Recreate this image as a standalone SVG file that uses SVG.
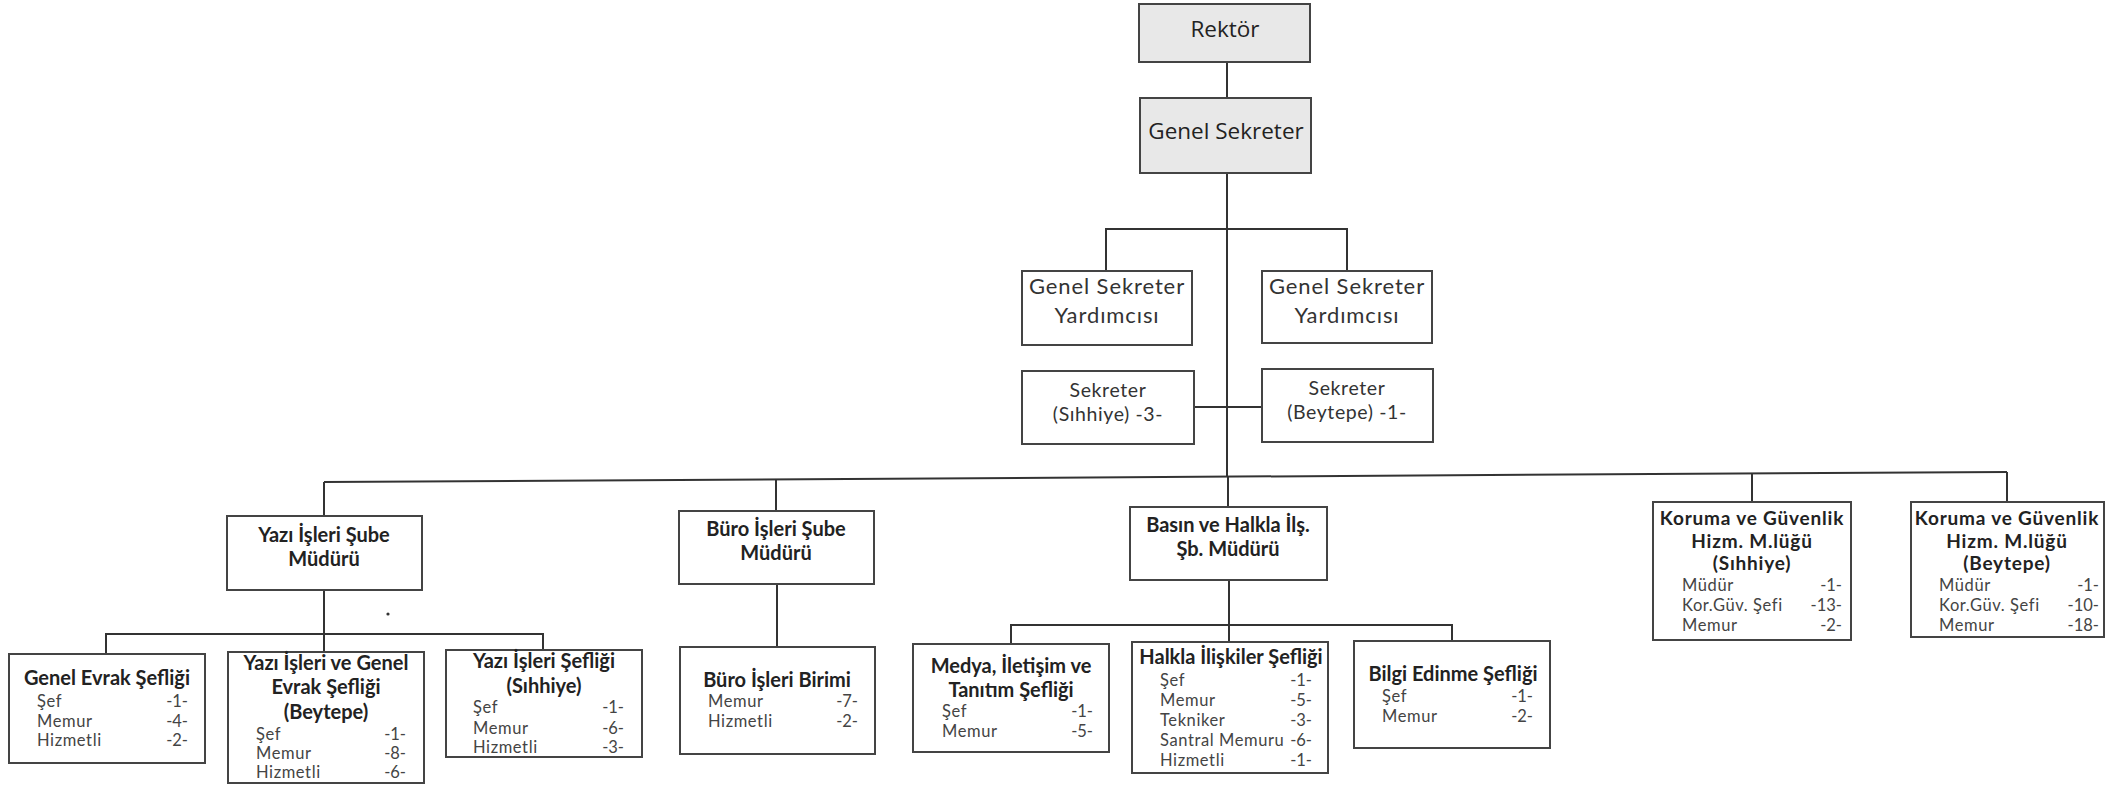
<svg xmlns="http://www.w3.org/2000/svg" width="2126" height="786" viewBox="0 0 2126 786">
<style>
.bg{fill:#ffffff}
.box{fill:#ffffff;stroke:#444;stroke-width:2}
.top{fill:#e8e8e8;stroke:#444;stroke-width:2}
.ln{fill:none;stroke:#333;stroke-width:2}
.t1{font-family:"Open Sans","Noto Sans",sans-serif;font-size:22.5px;fill:#222;text-anchor:middle}
.t2{font-family:Lato,"Open Sans",sans-serif;font-size:22px;fill:#333;text-anchor:middle;letter-spacing:0.9px}
.t3{font-family:Lato,"Open Sans",sans-serif;font-size:19.5px;fill:#333;text-anchor:middle;letter-spacing:0.6px}
.h{font-family:Lato,"Open Sans",sans-serif;font-size:20px;font-weight:bold;fill:#222;text-anchor:middle}
.hk{font-family:Lato,"Open Sans",sans-serif;font-size:19px;font-weight:bold;fill:#222;text-anchor:middle;letter-spacing:0.8px}
.il{font-family:Lato,"Open Sans",sans-serif;font-size:16.5px;fill:#444;letter-spacing:0.6px}
.ir{font-family:Lato,"Open Sans",sans-serif;font-size:16.5px;fill:#444;text-anchor:end}
</style>
<rect class="bg" x="0" y="0" width="2126" height="786"/>
<g id="connectors">
<path class="ln" d="M1227 62V98M1227 173V477"/>
<path class="ln" d="M1106 271V229H1347V271"/>
<path class="ln" d="M1194 407H1262"/>
<path class="ln" d="M324 482L2007 472"/>
<path class="ln" d="M324 482V516M776 479.3V511M1228 476.6V507M1752 473.5V502M2007 472V502"/>
<path class="ln" d="M324 590V652M106 654V634H543V650"/>
<path class="ln" d="M777 584V647"/>
<path class="ln" d="M1229 580V642M1011 644V625H1452V641"/>
<circle cx="388" cy="614" r="1.6" fill="#333"/>
</g>
<g id="rektor"><rect class="top" x="1139" y="4" width="171" height="58"/><text class="t1" x="1225" y="37">Rektör</text></g>
<g id="genel-sekreter"><rect class="top" x="1140" y="98" width="171" height="75"/><text class="t1" x="1226" y="139">Genel Sekreter</text></g>
<g id="gsy-1"><rect class="box" x="1022" y="271" width="170" height="74"/><text class="t2" x="1107" y="294">Genel Sekreter</text><text class="t2" x="1107" y="323">Yardımcısı</text></g>
<g id="gsy-2"><rect class="box" x="1262" y="271" width="170" height="72"/><text class="t2" x="1347" y="294">Genel Sekreter</text><text class="t2" x="1347" y="323">Yardımcısı</text></g>
<g id="sekreter-sihhiye"><rect class="box" x="1022" y="371" width="172" height="73"/><text class="t3" x="1108" y="397">Sekreter</text><text class="t3" x="1108" y="421">(Sıhhiye) -3-</text></g>
<g id="sekreter-beytepe"><rect class="box" x="1262" y="369" width="171" height="73"/><text class="t3" x="1347" y="395">Sekreter</text><text class="t3" x="1347" y="419">(Beytepe) -1-</text></g>
<g id="yazi-sube"><rect class="box" x="227" y="516" width="195" height="74"/><text class="h" x="324" y="542">Yazı İşleri Şube</text><text class="h" x="324" y="566">Müdürü</text></g>
<g id="buro-sube"><rect class="box" x="679" y="511" width="195" height="73"/><text class="h" x="776" y="536">Büro İşleri Şube</text><text class="h" x="776" y="560">Müdürü</text></g>
<g id="basin"><rect class="box" x="1130" y="507" width="197" height="73"/><text class="h" x="1228" y="532">Basın ve Halkla İlş.</text><text class="h" x="1228" y="556">Şb. Müdürü</text></g>
<g id="koruma-sihhiye"><rect class="box" x="1653" y="502" width="198" height="138"/><text class="hk" x="1752" y="525">Koruma ve Güvenlik</text><text class="hk" x="1752" y="548">Hizm. M.lüğü</text><text class="hk" x="1752" y="570">(Sıhhiye)</text>
<text class="il" x="1682" y="591">Müdür</text><text class="ir" x="1842" y="591">-1-</text>
<text class="il" x="1682" y="611">Kor.Güv. Şefi</text><text class="ir" x="1842" y="611">-13-</text>
<text class="il" x="1682" y="631">Memur</text><text class="ir" x="1842" y="631">-2-</text></g>
<g id="koruma-beytepe"><rect class="box" x="1911" y="502" width="193" height="135"/><text class="hk" x="2007" y="525">Koruma ve Güvenlik</text><text class="hk" x="2007" y="548">Hizm. M.lüğü</text><text class="hk" x="2007" y="570">(Beytepe)</text>
<text class="il" x="1939" y="591">Müdür</text><text class="ir" x="2099" y="591">-1-</text>
<text class="il" x="1939" y="611">Kor.Güv. Şefi</text><text class="ir" x="2099" y="611">-10-</text>
<text class="il" x="1939" y="631">Memur</text><text class="ir" x="2099" y="631">-18-</text></g>
<g id="genel-evrak"><rect class="box" x="9" y="654" width="196" height="109"/><text class="h" x="107" y="685">Genel Evrak Şefliği</text>
<text class="il" x="37" y="707">Şef</text><text class="ir" x="188" y="707">-1-</text>
<text class="il" x="37" y="727">Memur</text><text class="ir" x="188" y="727">-4-</text>
<text class="il" x="37" y="746">Hizmetli</text><text class="ir" x="188" y="746">-2-</text></g>
<g id="yazi-genel-evrak"><rect class="box" x="228" y="652" width="196" height="131"/><text class="h" x="326" y="670">Yazı İşleri ve Genel</text><text class="h" x="326" y="694">Evrak Şefliği</text><text class="h" x="326" y="719">(Beytepe)</text>
<text class="il" x="256" y="740">Şef</text><text class="ir" x="406" y="740">-1-</text>
<text class="il" x="256" y="759">Memur</text><text class="ir" x="406" y="759">-8-</text>
<text class="il" x="256" y="778">Hizmetli</text><text class="ir" x="406" y="778">-6-</text></g>
<g id="yazi-sefligi"><rect class="box" x="446" y="650" width="196" height="107"/><text class="h" x="544" y="668">Yazı İşleri Şefliği</text><text class="h" x="544" y="693">(Sıhhiye)</text>
<text class="il" x="473" y="713">Şef</text><text class="ir" x="624" y="713">-1-</text>
<text class="il" x="473" y="734">Memur</text><text class="ir" x="624" y="734">-6-</text>
<text class="il" x="473" y="753">Hizmetli</text><text class="ir" x="624" y="753">-3-</text></g>
<g id="buro-birimi"><rect class="box" x="680" y="647" width="195" height="107"/><text class="h" x="777" y="687">Büro İşleri Birimi</text>
<text class="il" x="708" y="707">Memur</text><text class="ir" x="858" y="707">-7-</text>
<text class="il" x="708" y="727">Hizmetli</text><text class="ir" x="858" y="727">-2-</text></g>
<g id="medya"><rect class="box" x="913" y="644" width="196" height="108"/><text class="h" x="1011" y="673">Medya, İletişim ve</text><text class="h" x="1011" y="697">Tanıtım Şefliği</text>
<text class="il" x="942" y="717">Şef</text><text class="ir" x="1093" y="717">-1-</text>
<text class="il" x="942" y="737">Memur</text><text class="ir" x="1093" y="737">-5-</text></g>
<g id="halkla"><rect class="box" x="1132" y="642" width="196" height="131"/><text class="h" x="1231" y="664">Halkla İlişkiler Şefliği</text>
<text class="il" x="1160" y="686">Şef</text><text class="ir" x="1312" y="686">-1-</text>
<text class="il" x="1160" y="706">Memur</text><text class="ir" x="1312" y="706">-5-</text>
<text class="il" x="1160" y="726">Tekniker</text><text class="ir" x="1312" y="726">-3-</text>
<text class="il" x="1160" y="746">Santral Memuru</text><text class="ir" x="1312" y="746">-6-</text>
<text class="il" x="1160" y="766">Hizmetli</text><text class="ir" x="1312" y="766">-1-</text></g>
<g id="bilgi"><rect class="box" x="1354" y="641" width="196" height="107"/><text class="h" x="1453" y="681">Bilgi Edinme Şefliği</text>
<text class="il" x="1382" y="702">Şef</text><text class="ir" x="1533" y="702">-1-</text>
<text class="il" x="1382" y="722">Memur</text><text class="ir" x="1533" y="722">-2-</text></g>
</svg>
